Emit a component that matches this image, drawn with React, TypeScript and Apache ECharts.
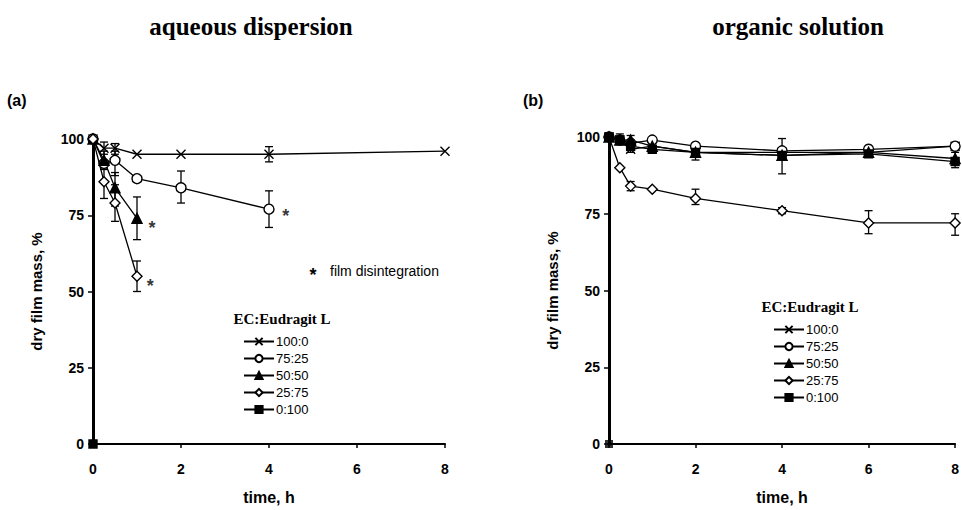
import React, { useEffect, useRef } from "react";
import * as echarts from "echarts";

// ---------- data ----------
const seriesNames = ["100:0", "75:25", "50:50", "25:75", "0:100"];
const xTicks = [0, 2, 4, 6, 8];
const yTicks = [0, 25, 50, 75, 100];

// (a) aqueous dispersion
const aqTime100_0 = [0, 0.25, 0.5, 1, 2, 4, 8];
const aqMass100_0 = [100, 97, 97, 95, 95, 95, 96];
const aqTime75_25 = [0, 0.25, 0.5, 1, 2, 4];
const aqMass75_25 = [100, 92, 93, 87, 84, 77];
const aqTime50_50 = [0, 0.25, 0.5, 1];
const aqMass50_50 = [100, 93, 84, 74];
const aqTime25_75 = [0, 0.25, 0.5, 1];
const aqMass25_75 = [100, 86, 79, 55];
const aqTime0_100 = [0];
const aqMass0_100 = [0];
// [time, low, high]
const aqErrorBars = [
  [0.25, 95, 99],
  [0.5, 95, 98.5],
  [4, 92.5, 97.5],
  [0.5, 88, 96],
  [2, 79, 89.5],
  [4, 71, 83],
  [0.25, 90, 96],
  [0.5, 78, 89],
  [1, 67, 81],
  [0.25, 80.5, 90.5],
  [0.5, 73, 85],
  [1, 50, 60],
];
// film disintegration marks [time, mass]
const aqDisintegration = [
  [1.34, 72],
  [1.3, 53],
  [4.38, 76],
];

// (b) organic solution
const orgTime = [0, 0.25, 0.5, 1, 2, 4, 6, 8];
const orgMass100_0 = [100, 99, 96, 97, 95, 95, 95, 97];
const orgMass75_25 = [100, 99, 98, 99, 97, 95.5, 96, 97];
const orgMass50_50 = [100, 99, 99, 97, 95, 94, 95, 93];
const orgMass25_75 = [100, 90, 84, 83, 80, 76, 72, 72];
const orgMass0_100 = [100, 99, 97, 96, 95, 94, 94.5, 92];
const orgOrigin = [[0, 0]];
const orgErrorBars = [
  [0.25, 97.5, 101],
  [0.5, 95, 100.5],
  [2, 92.5, 97.5],
  [4, 88, 99.5],
  [6, 93.5, 96],
  [8, 90, 95],
  [0.5, 82.5, 85.5],
  [2, 78, 83],
  [4, 75, 77],
  [6, 68.5, 76],
  [8, 68, 75],
];

// ---------- styles ----------
const X_SYMBOL = "path://M0,0L10,10M10,0L0,10";
const markerStyles: Record<string, { symbol: string; size: number; fill: string }> = {
  "100:0": { symbol: X_SYMBOL, size: 9, fill: "#000" },
  "75:25": { symbol: "circle", size: 10, fill: "#fff" },
  "50:50": { symbol: "triangle", size: 10, fill: "#000" },
  "25:75": { symbol: "diamond", size: 10, fill: "#fff" },
  "0:100": { symbol: "rect", size: 8, fill: "#000" },
};

const SANS = "'Liberation Sans', Arial, sans-serif";
const SERIF = "'Liberation Serif', 'Times New Roman', serif";

function lineSeries(name: string, times: number[], values: number[], idx: number) {
  const s = markerStyles[name];
  return {
    type: "line",
    name,
    xAxisIndex: idx,
    yAxisIndex: idx,
    data: times.map((t, i) => [t, values[i]]),
    symbol: s.symbol,
    symbolSize: s.size,
    symbolKeepAspect: true,
    showAllSymbol: true,
    lineStyle: { color: "#000", width: 1.3 },
    itemStyle: { color: s.fill, borderColor: "#000", borderWidth: 1.4 },
    z: 3,
    clip: false,
  };
}

function errorSeries(data: number[][], idx: number) {
  return {
    type: "custom",
    xAxisIndex: idx,
    yAxisIndex: idx,
    data,
    encode: { x: 0, y: [1, 2] },
    z: 2,
    clip: false,
    renderItem: (_p: any, api: any) => {
      const x = api.value(0);
      const lo = api.coord([x, api.value(1)]);
      const hi = api.coord([x, api.value(2)]);
      const w = 4;
      const st = { stroke: "#000", lineWidth: 1.3 };
      return {
        type: "group",
        children: [
          { type: "line", shape: { x1: lo[0], y1: lo[1], x2: hi[0], y2: hi[1] }, style: st },
          { type: "line", shape: { x1: lo[0] - w, y1: lo[1], x2: lo[0] + w, y2: lo[1] }, style: st },
          { type: "line", shape: { x1: hi[0] - w, y1: hi[1], x2: hi[0] + w, y2: hi[1] }, style: st },
        ],
      };
    },
  };
}

function makeXAxis(idx: number) {
  return {
    type: "value",
    gridIndex: idx,
    min: xTicks[0],
    max: xTicks[xTicks.length - 1],
    interval: 2,
    name: "time, h",
    nameLocation: "middle",
    nameGap: 45,
    nameTextStyle: { fontFamily: SANS, fontWeight: "bold", fontSize: 16, color: "#000" },
    axisLine: { show: true, onZero: false, lineStyle: { color: "#000", width: 2 } },
    axisTick: { show: true, length: 4, lineStyle: { color: "#000", width: 1.5 } },
    axisLabel: { fontFamily: SANS, fontWeight: "bold", fontSize: 14, color: "#000", margin: 18 },
    splitLine: { show: false },
  };
}

function makeYAxis(idx: number) {
  return {
    type: "value",
    gridIndex: idx,
    min: yTicks[0],
    max: yTicks[yTicks.length - 1],
    interval: 25,
    name: "dry film mass, %",
    nameLocation: "middle",
    nameGap: 49,
    nameRotate: 90,
    nameTextStyle: { fontFamily: SANS, fontWeight: "bold", fontSize: 15, color: "#000" },
    axisLine: { show: true, onZero: false, lineStyle: { color: "#000", width: 3 } },
    axisTick: { show: true, length: 5, lineStyle: { color: "#000", width: 1.5 } },
    axisLabel: { fontFamily: SANS, fontWeight: "bold", fontSize: 14, color: "#000", margin: 9 },
    splitLine: { show: false },
  };
}

export default function App() {
  const ref = useRef<HTMLDivElement>(null);
  useEffect(() => {
    document.body.style.margin = "0";
    if (!ref.current) return;
    const chart = echarts.init(ref.current, undefined, { renderer: "svg" });
    const legendBase = {
      orient: "vertical",
      data: seriesNames,
      itemWidth: 30,
      itemHeight: 9,
      itemGap: 2,
      padding: 0,
      selectedMode: false,
      textStyle: { fontFamily: SANS, fontSize: 13, color: "#000", padding: [0, 0, 0, -3], lineHeight: 15 },
    };
    chart.setOption({
      animation: false,
      backgroundColor: "#fff",
      grid: [
        { left: 93, top: 139, width: 352, height: 309 },
        { left: 609, top: 137, width: 351, height: 311 },
      ],
      xAxis: [makeXAxis(0), makeXAxis(1)],
      yAxis: [makeYAxis(0), makeYAxis(1)],
      legend: [
        { ...legendBase, left: 243, top: 334 },
        { ...legendBase, left: 773, top: 322 },
      ],
      graphic: [
        { type: "text", x: 251, y: 26, style: { text: "aqueous dispersion", font: `bold 25px ${SERIF}`, fill: "#000", textAlign: "center", textVerticalAlign: "middle" } },
        { type: "text", x: 798, y: 26, style: { text: "organic solution", font: `bold 25px ${SERIF}`, fill: "#000", textAlign: "center", textVerticalAlign: "middle" } },
        { type: "text", x: 7, y: 100, style: { text: "(a)", font: `bold 16px ${SANS}`, fill: "#000", textAlign: "left", textVerticalAlign: "middle" } },
        { type: "text", x: 523, y: 100, style: { text: "(b)", font: `bold 16px ${SANS}`, fill: "#000", textAlign: "left", textVerticalAlign: "middle" } },
        { type: "text", x: 282, y: 319, style: { text: "EC:Eudragit L", font: `bold 15px ${SERIF}`, fill: "#000", textAlign: "center", textVerticalAlign: "middle" } },
        { type: "text", x: 810, y: 307, style: { text: "EC:Eudragit L", font: `bold 15px ${SERIF}`, fill: "#000", textAlign: "center", textVerticalAlign: "middle" } },
        { type: "text", x: 313, y: 275, style: { text: "*", font: `bold 18px ${SANS}`, fill: "#000", textAlign: "center", textVerticalAlign: "middle" } },
        { type: "text", x: 330, y: 271, style: { text: "film disintegration", font: `14px ${SANS}`, fill: "#000", textAlign: "left", textVerticalAlign: "middle" } },
      ],
      series: [
        errorSeries(aqErrorBars, 0),
        lineSeries("100:0", aqTime100_0, aqMass100_0, 0),
        lineSeries("75:25", aqTime75_25, aqMass75_25, 0),
        lineSeries("50:50", aqTime50_50, aqMass50_50, 0),
        lineSeries("25:75", aqTime25_75, aqMass25_75, 0),
        lineSeries("0:100", aqTime0_100, aqMass0_100, 0),
        {
          type: "scatter",
          xAxisIndex: 0,
          yAxisIndex: 0,
          data: aqDisintegration,
          symbolSize: 1,
          itemStyle: { color: "rgba(0,0,0,0)" },
          label: { show: true, position: "inside", formatter: "*", fontFamily: SANS, fontWeight: "bold", fontSize: 18, color: "#000", offset: [0, 4] },
          z: 4,
        },
        errorSeries(orgErrorBars, 1),
        lineSeries("100:0", orgTime, orgMass100_0, 1),
        lineSeries("75:25", orgTime, orgMass75_25, 1),
        lineSeries("50:50", orgTime, orgMass50_50, 1),
        lineSeries("25:75", orgTime, orgMass25_75, 1),
        lineSeries("0:100", orgTime, orgMass0_100, 1),
        {
          type: "scatter",
          xAxisIndex: 1,
          yAxisIndex: 1,
          data: orgOrigin,
          symbol: "rect",
          symbolSize: 8,
          itemStyle: { color: "#000" },
          z: 4,
        },
      ],
    });
    return () => chart.dispose();
  }, []);
  return <div ref={ref} style={{ width: 962, height: 510 }} />;
}
